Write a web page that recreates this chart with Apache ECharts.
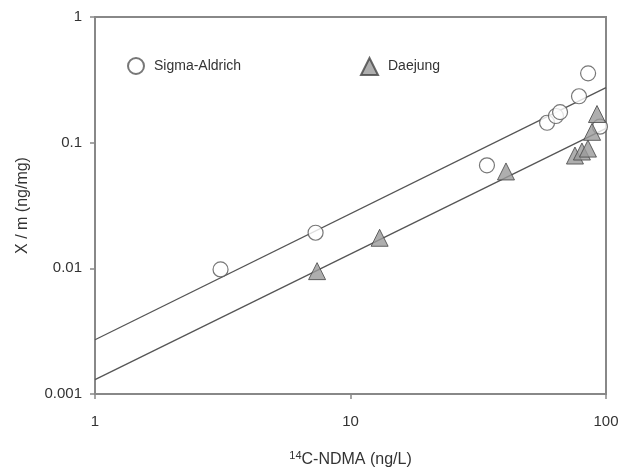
<!DOCTYPE html>
<html>
<head>
<meta charset="utf-8">
<script src="https://cdn.jsdelivr.net/npm/echarts@6/dist/echarts.min.js"></script>
<style>html,body{margin:0;padding:0;background:#fff}#c{width:631px;height:473px}</style>
</head>
<body>
<div id="c"></div>
<script>
// Sigma-Aldrich points [x, y]
const sigmaX = [3.1, 7.3, 34.2, 58.8, 63.7, 66.1, 78.4, 85.1, 94.7];
const sigmaY = [0.0098, 0.0192, 0.066, 0.144, 0.163, 0.175, 0.234, 0.356, 0.134];
// Daejung points
const daeX = [7.4, 13.0, 40.6, 75.6, 80.5, 85.0, 88.2, 92.2];
const daeY = [0.0095, 0.0175, 0.059, 0.079, 0.085, 0.0897, 0.122, 0.169];
// Fitted lines (endpoints)
const fitSigmaX = [1, 100];
const fitSigmaY = [0.0027, 0.274];
const fitDaeX = [1, 100];
const fitDaeY = [0.0013, 0.13];
const xTicks = [1, 10, 100];
const yTicks = [0.001, 0.01, 0.1, 1];

const zip = (a, b) => a.map((v, i) => [v, b[i]]);
const font = 'Liberation Sans, Arial, sans-serif';
const txt = '#333';
const chart = echarts.init(document.getElementById('c'));
chart.setOption({
  animation: false,
  backgroundColor: '#fff',
  grid: { left: 95, right: 25, top: 17, bottom: 75, show: true, borderColor: '#888', borderWidth: 2 },
  legend: [
    { data: ['Sigma-Aldrich'], left: 122, top: 52, itemWidth: 16, itemHeight: 16,
      textStyle: { fontFamily: font, fontSize: 14, color: txt, padding: [0, 0, 0, 5] } },
    { data: ['Daejung'], left: 355, top: 52, itemWidth: 17, itemHeight: 17,
      textStyle: { fontFamily: font, fontSize: 14, color: txt, padding: [0, 0, 0, 5] } }
  ],
  xAxis: {
    type: 'log', logBase: 10, min: 1, max: 100,
    name: '{sup|14}C-NDMA (ng/L)', nameLocation: 'middle', nameGap: 56,
    nameTextStyle: { fontFamily: font, fontSize: 16, color: txt,
      rich: { sup: { fontFamily: font, fontSize: 11, color: txt, verticalAlign: 'bottom', padding: [0, 0, 9, 0] } } },
    axisLine: { show: true, lineStyle: { color: '#888', width: 2 } },
    axisTick: { show: true, inside: false, length: 5, lineStyle: { color: '#888', width: 1.5 } },
    axisLabel: { fontFamily: font, fontSize: 15, color: txt, margin: 20,
      formatter: v => (xTicks.includes(Math.round(v)) ? String(Math.round(v)) : '') },
    splitLine: { show: false }, minorTick: { show: false }
  },
  yAxis: {
    type: 'log', logBase: 10, min: 0.001, max: 1,
    name: 'X / m (ng/mg)', nameLocation: 'middle', nameGap: 64, nameRotate: 90,
    nameTextStyle: { fontFamily: font, fontSize: 16, color: txt },
    axisLine: { show: true, lineStyle: { color: '#888', width: 2 } },
    axisTick: { show: true, inside: false, length: 5, lineStyle: { color: '#888', width: 1.5 } },
    axisLabel: { fontFamily: font, fontSize: 15, color: txt, margin: 13,
      formatter: v => { const t = yTicks.find(y => Math.abs(y - v) / y < 1e-6); return t === undefined ? '' : String(t); } },
    splitLine: { show: false }
  },
  series: [
    { name: 'fitS', type: 'line', data: zip(fitSigmaX, fitSigmaY), showSymbol: false, silent: true,
      lineStyle: { color: '#555', width: 1.3 }, z: 1 },
    { name: 'fitD', type: 'line', data: zip(fitDaeX, fitDaeY), showSymbol: false, silent: true,
      lineStyle: { color: '#555', width: 1.3 }, z: 1 },
    { name: 'Sigma-Aldrich', type: 'scatter', data: zip(sigmaX, sigmaY), symbol: 'circle', symbolSize: 15,
      itemStyle: { color: '#fff', borderColor: '#555', borderWidth: 1.2 }, z: 3 },
    { name: 'Daejung', type: 'scatter', data: zip(daeX, daeY), symbol: 'triangle', symbolSize: 17,
      itemStyle: { color: '#9a9a9a', borderColor: '#444', borderWidth: 1 }, z: 4 }
  ]
});
</script>
</body>
</html>
